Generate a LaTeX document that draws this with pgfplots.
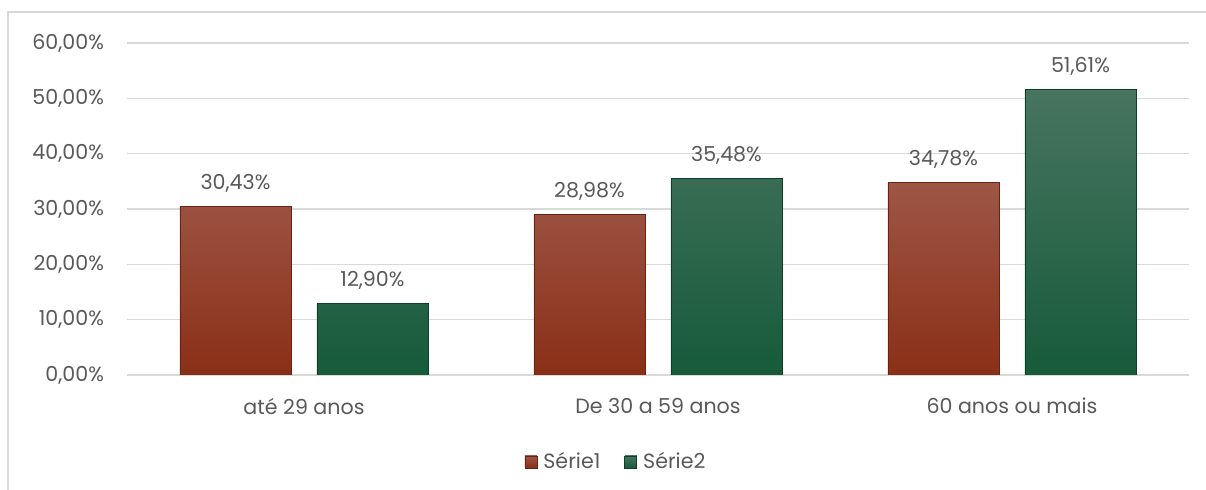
\documentclass[border=0pt]{standalone}
\usepackage{pgfplots}
\pgfplotsset{compat=1.18}
\usepackage{fontspec}
\setmainfont{Poppins}
\definecolor{txt}{HTML}{595959}
\definecolor{gridc}{HTML}{D9D9D9}
\definecolor{redT}{HTML}{9E5646}
\definecolor{redB}{HTML}{8A2F17}
\definecolor{redD}{HTML}{6A2312}
\definecolor{grnT}{HTML}{487460}
\definecolor{grnB}{HTML}{165B3A}
\definecolor{grnD}{HTML}{0E3F27}
\begin{document}
\begin{tikzpicture}
\useasboundingbox (-63.5pt,-57.5pt) rectangle (539.5pt,187.5pt);
\draw[gridc, line width=0.8pt] (-59.5pt,-80pt) rectangle (560pt,181.5pt);
\begin{axis}[
  at={(0,0)}, anchor=south west,
  scale only axis, width=531pt, height=166pt,
  xmin=-0.5, xmax=2.5, ymin=0, ymax=60,
  axis line style={draw=none},
  ytick={0,10,...,60},
  ymajorgrids, grid style={gridc, line width=0.8pt},
  major tick length=0pt,
  xtick={0,1,2},
  xticklabels={até 29 anos, De 30 a 59 anos, 60 anos ou mais},
  yticklabel={\pgfmathprintnumber[fixed,fixed zerofill,precision=2,use comma]{\tick}\%},
  /pgf/number format/assume math mode=true,
  tick label style={font=\fontsize{10.3}{11}\selectfont, text=txt},
  yticklabel style={xshift=-8pt},
  xticklabel style={yshift=-8pt},
  ybar, bar width=55.5pt,
  nodes near coords={\pgfmathprintnumber[fixed,fixed zerofill,precision=2,use comma]{\pgfplotspointmeta}\%},
  nodes near coords style={font=\fontsize{10.3}{11}\selectfont, text=txt, inner sep=0pt, yshift=7pt, /pgf/number format/assume math mode=true},
  legend style={at={(245pt,-43.5pt)}, anchor=center, draw=none, fill=none,
    legend columns=2, font=\fontsize{10.3}{11}\selectfont, text=txt,
    /tikz/every even column/.append style={column sep=10pt},
    /tikz/every odd column/.append style={column sep=1pt}},
  legend image code/.code={\draw[#1] (0pt,-3pt) rectangle (6pt,3pt);},
]
\addplot[bar shift=-34.25pt, draw=redD, top color=redT, bottom color=redB] coordinates {(0,30.43) (1,28.98) (2,34.78)};
\addplot[bar shift=34.25pt, draw=grnD, top color=grnT, bottom color=grnB] coordinates {(0,12.90) (1,35.48) (2,51.61)};
\legend{Série1, Série2}
\end{axis}
\end{tikzpicture}
\end{document}
